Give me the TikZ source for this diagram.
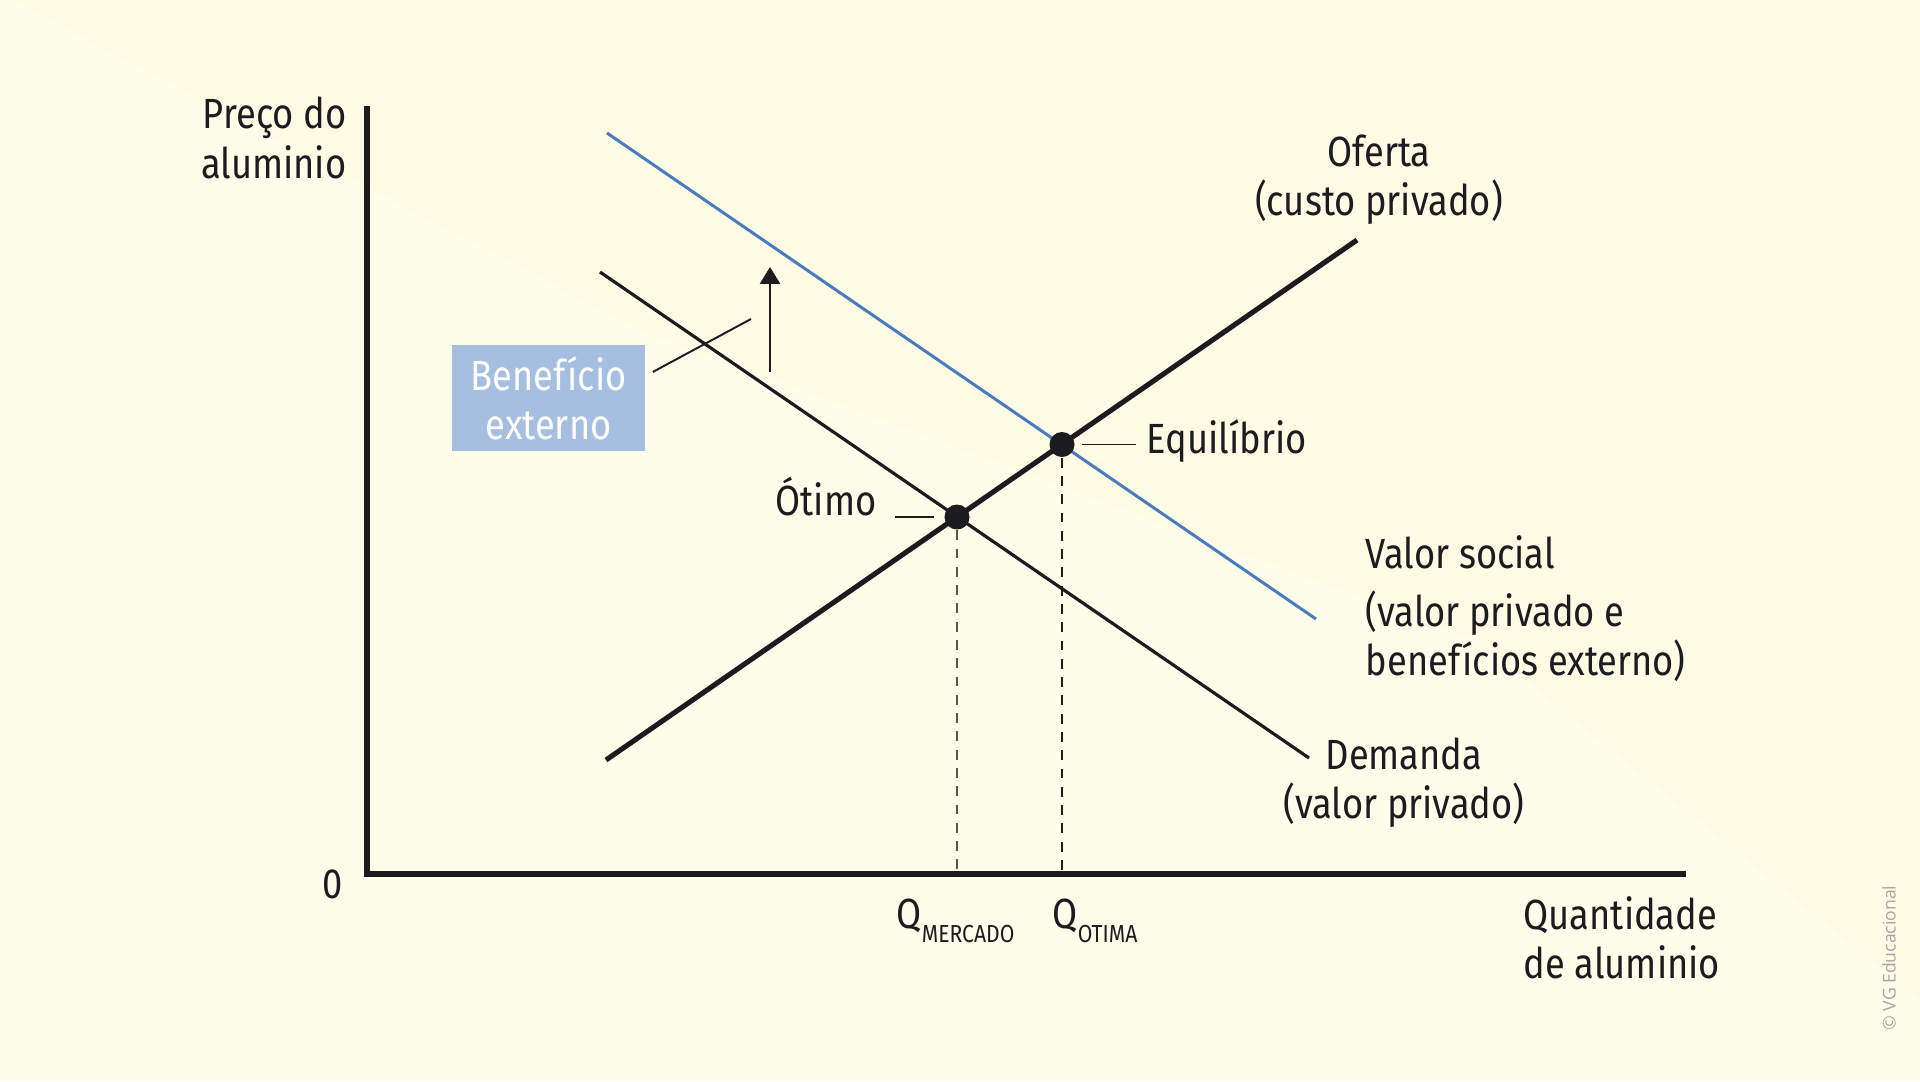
\documentclass[tikz,border=0pt]{standalone}
\usepackage{fontspec}
\setmainfont{Fira Sans}[FakeStretch=0.86]
\newfontfamily\credito{Open Sans}
\usetikzlibrary{arrows.meta}

\definecolor{fundo}{HTML}{FDFDEA}
\definecolor{faixa}{HTML}{FEFBE4}
\definecolor{azul}{HTML}{4B7BBE}
\definecolor{caixaazul}{HTML}{A6BEDF}
\definecolor{tinta}{HTML}{1C1B1F}

\begin{document}
\begin{tikzpicture}[x=0.01cm,y=-0.01cm,
    rotulo/.style={font=\fontsize{12}{14}\selectfont, text=tinta, inner sep=0pt},
    eixo/.style={line width=1.7pt, tinta},
    curva/.style={line width=0.9pt, tinta},
    ponto/.style={circle, fill=tinta, minimum size=0.25cm, inner sep=0pt},
    guia/.style={dash pattern=on 2.8pt off 2.4pt, line width=0.6pt, tinta},
    fio/.style={line width=0.55pt, tinta},
    caixa/.style={fill=caixaazul, text=white, minimum width=1.93cm, minimum height=1.06cm,
                  align=center, inner sep=0pt, font=\fontsize{12}{14}\selectfont}]

        \fill[fundo] (0,0) rectangle (1920,1081);
        \fill[faixa] (12,0) -- (640,330) -- (1476,640) -- (1920,1000) -- (1920,0) -- cycle;
        \useasboundingbox (0,0) rectangle (1920,1081);

        \coordinate (O) at (367,874);
        \coordinate (Ytopo) at (367,106);
        \coordinate (Xfim) at (1686,874);
        \coordinate (of1) at (606,760);
        \coordinate (of2) at (1357,240);
        \coordinate (dm1) at (600,272);
        \coordinate (dm2) at (1309,758);
        \coordinate (vs1) at (607,133);
        \coordinate (vs2) at (1316,619);
        \coordinate (setab) at (770,372);
        \coordinate (setat) at (770,267);
        \coordinate (bfim) at (751,319);

        \draw[eixo] (Ytopo) -- (O) -- (Xfim);
        \draw[curva, azul, line width=0.85pt] (vs1) -- (vs2);
        \draw[curva] (dm1) -- (dm2);
        \draw[curva, line width=1.45pt] (of1) -- (of2);

        \node[ponto] (otimo) at (957,517) {};
        \node[ponto] (equil) at (1062,444.5) {};

        \draw[guia, line width=0.45pt, tinta!75] (otimo) -- (otimo |- O);
        \draw[guia] (equil) -- (equil |- O);

        \node[caixa] (benef) at (548.5,398) {Benefício\\externo};
        \draw[fio] ([xshift=2pt,yshift=7.4pt]benef.east) -- (bfim);
        \draw[fio, line width=0.6pt, -{Triangle[width=5.7pt,length=4.8pt]}] (setab) -- (setat);

        \node[rotulo, align=right, anchor=east] (preco) at (347,138) {Preço do\\aluminio};
        \node[rotulo, anchor=base] (zero) at (333,898) {0};
        \node[rotulo, anchor=base west] (qmerc) at (896,928) {Q\raisebox{-4pt}{\fontsize{7}{8}\selectfont MERCADO}};
        \node[rotulo, anchor=base west] (qotima) at (1052,928) {Q\raisebox{-4pt}{\fontsize{7}{8}\selectfont OTIMA}};
        \node[rotulo, align=left, anchor=west] (quant) at (1523,938) {Quantidade\\de aluminio};
        \node[rotulo, align=center] (oferta) at (1379,180) {Oferta\\(custo privado)};
        \node[rotulo, anchor=base west] (eqlbl) at (1146,453) {Equilíbrio};
        \node[rotulo, anchor=base east] (otlbl) at (877,515) {Ótimo};
        \node[rotulo, anchor=base west] (valsoc) at (1365,568) {Valor social};
        \node[rotulo, align=left, anchor=west] (valsocb) at (1365,636) {(valor privado e\\benefícios externo)};
        \node[rotulo, align=center] (demanda) at (1404,783) {Demanda\\(valor privado)};

        \draw[fio, shorten <=2pt, shorten >=2.8pt] (equil.east) -- (equil.east -| eqlbl.west);
        \draw[fio, shorten <=2.7pt, shorten >=5pt] (otimo.west) -- (otimo.west -| otlbl.east);

        \node[rotate=90, font=\credito\fontsize{5}{6}\selectfont, text=black!35, inner sep=0pt] (cred) at (1889,958) {© VG Educacional};

\end{tikzpicture}
\end{document}
